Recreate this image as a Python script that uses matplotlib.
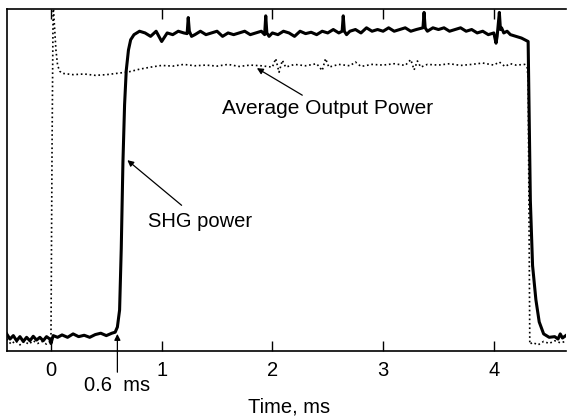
import matplotlib
matplotlib.use('Agg')
import matplotlib.pyplot as plt

plt.rcParams['font.family'] = ['Liberation Sans', 'DejaVu Sans']

# SHG power (solid, thick)
shg_t = [-0.40, -0.37, -0.34, -0.31, -0.28, -0.25, -0.22, -0.19, -0.16, -0.13,
         -0.10, -0.07, -0.04, -0.01, 0.00, 0.02, 0.06, 0.10, 0.15, 0.20,
         0.25, 0.30, 0.35, 0.40, 0.45, 0.50, 0.55, 0.58, 0.60, 0.62,
         0.635, 0.65, 0.665, 0.68, 0.70, 0.72, 0.75, 0.80, 0.85, 0.90,
         0.95, 1.00, 1.05, 1.10, 1.15, 1.20, 1.23, 1.24, 1.25, 1.27,
         1.30, 1.35, 1.40, 1.45, 1.50, 1.55, 1.60, 1.65, 1.70, 1.75,
         1.80, 1.85, 1.90, 1.93, 1.94, 1.95, 1.97, 2.00, 2.05, 2.10,
         2.15, 2.20, 2.25, 2.30, 2.35, 2.40, 2.45, 2.50, 2.55, 2.60,
         2.63, 2.64, 2.65, 2.67, 2.70, 2.75, 2.80, 2.85, 2.90, 2.95,
         3.00, 3.05, 3.10, 3.15, 3.20, 3.25, 3.30, 3.36, 3.37, 3.38,
         3.40, 3.45, 3.50, 3.55, 3.60, 3.65, 3.70, 3.75, 3.80, 3.85,
         3.90, 3.95, 4.00, 4.02, 4.03, 4.05, 4.06, 4.07, 4.09, 4.12,
         4.15, 4.20, 4.25, 4.28, 4.31, 4.33, 4.35, 4.38, 4.41, 4.45,
         4.50, 4.55, 4.58, 4.60, 4.62, 4.65]
shg_v = [0.050, 0.035, 0.045, 0.030, 0.042, 0.028, 0.040, 0.030, 0.043, 0.032,
         0.040, 0.030, 0.042, 0.035, 0.022, 0.045, 0.040, 0.047, 0.040, 0.050,
         0.042, 0.046, 0.040, 0.048, 0.052, 0.045, 0.052, 0.055, 0.070, 0.120,
         0.300, 0.550, 0.720, 0.820, 0.880, 0.910, 0.925, 0.935, 0.930, 0.920,
         0.935, 0.905, 0.930, 0.925, 0.935, 0.930, 0.928, 0.975, 0.935, 0.920,
         0.925, 0.935, 0.925, 0.930, 0.935, 0.920, 0.930, 0.925, 0.930, 0.935,
         0.925, 0.930, 0.935, 0.925, 0.980, 0.930, 0.920, 0.930, 0.925, 0.935,
         0.930, 0.920, 0.935, 0.928, 0.932, 0.925, 0.935, 0.930, 0.940, 0.930,
         0.935, 0.980, 0.935, 0.925, 0.935, 0.940, 0.930, 0.945, 0.935, 0.940,
         0.935, 0.945, 0.935, 0.940, 0.945, 0.935, 0.940, 0.945, 0.990, 0.945,
         0.935, 0.945, 0.940, 0.945, 0.935, 0.940, 0.945, 0.935, 0.940, 0.930,
         0.935, 0.925, 0.930, 0.900, 0.920, 0.990, 0.940, 0.945, 0.930, 0.935,
         0.925, 0.920, 0.915, 0.910, 0.905, 0.440, 0.250, 0.150, 0.085, 0.050,
         0.040, 0.042, 0.035, 0.050, 0.038, 0.045]

# Average output power (dotted, thin)
avg_t = [-0.40, -0.36, -0.32, -0.28, -0.24, -0.20, -0.16, -0.12, -0.08, -0.04,
         0.00, 0.01, 0.02, 0.03, 0.045, 0.06, 0.08, 0.10, 0.20, 0.30,
         0.40, 0.50, 0.60, 0.70, 0.80, 0.90, 1.00, 1.10, 1.20, 1.30,
         1.40, 1.50, 1.60, 1.70, 1.80, 1.90, 2.00, 2.03, 2.06, 2.09,
         2.12, 2.20, 2.30, 2.40, 2.45, 2.48, 2.51, 2.60, 2.70, 2.75,
         2.80, 2.90, 3.00, 3.10, 3.20, 3.25, 3.28, 3.31, 3.34, 3.40,
         3.50, 3.60, 3.70, 3.80, 3.90, 4.00, 4.05, 4.10, 4.15, 4.20,
         4.28, 4.30, 4.31, 4.325, 4.35, 4.40, 4.45, 4.50, 4.55, 4.60,
         4.65]
avg_v = [0.035, 0.020, 0.030, 0.018, 0.028, 0.020, 0.030, 0.022, 0.028, 0.020,
         0.030, 0.600, 1.020, 0.960, 0.880, 0.835, 0.818, 0.812, 0.808, 0.810,
         0.806, 0.808, 0.812, 0.816, 0.824, 0.830, 0.835, 0.833, 0.838, 0.834,
         0.836, 0.833, 0.838, 0.832, 0.836, 0.834, 0.830, 0.855, 0.815, 0.850,
         0.830, 0.838, 0.834, 0.840, 0.820, 0.855, 0.830, 0.838, 0.834, 0.845,
         0.832, 0.838, 0.836, 0.840, 0.835, 0.852, 0.822, 0.848, 0.830, 0.838,
         0.836, 0.840, 0.835, 0.838, 0.842, 0.836, 0.845, 0.832, 0.840, 0.836,
         0.838, 0.830, 0.800, 0.020, 0.025, 0.018, 0.028, 0.022, 0.030, 0.024,
         0.028]

xticks = [0, 1, 2, 3, 4]

fig = plt.figure(figsize=(5.69, 4.16), dpi=100)
ax = fig.add_axes([7 / 569, 1 - 351 / 416, 559 / 569, 342 / 416])

ax.plot(shg_t, shg_v, color='black', linewidth=2.2, solid_joinstyle='round')
ax.plot(avg_t, avg_v, color='black', linewidth=1.2, linestyle=':')

ax.set_xlim(-0.397, 4.652)
ax.set_ylim(0, 1)
ax.set_xticks(xticks)
ax.set_xticklabels([str(x) for x in xticks])
ax.set_yticks([])
ax.tick_params(axis='x', direction='in', top=True, length=7, width=1,
               labelsize=14.5, pad=7)
ax.spines['right'].set_visible(False)
for s in ['left', 'top', 'bottom']:
    ax.spines[s].set_linewidth(1.2)

# axis title placed by hand, close to the bottom edge as in the original
fig.text(289 / 569, 1 - 407 / 416, 'Time, ms', fontsize=14.5,
         ha='center', va='center')

arrow = dict(arrowstyle='-|>', color='black', linewidth=0.9, mutation_scale=9,
             shrinkA=0, shrinkB=0)
ax.text(2.5, 0.71, 'Average Output Power', fontsize=15, ha='center', va='center')
ax.annotate('', xy=(1.86, 0.827), xytext=(2.27, 0.748), arrowprops=arrow)
ax.text(1.35, 0.38, 'SHG power', fontsize=14.5, ha='center', va='center')
ax.annotate('', xy=(0.69, 0.558), xytext=(1.18, 0.426), arrowprops=arrow)
ax.text(0.6, -0.10, '0.6  ms', fontsize=14.5, ha='center', va='center')
ax.annotate('', xy=(0.6, 0.05), xytext=(0.6, -0.062), arrowprops=arrow,
            annotation_clip=False)

fig.savefig('out.png', dpi=100)
